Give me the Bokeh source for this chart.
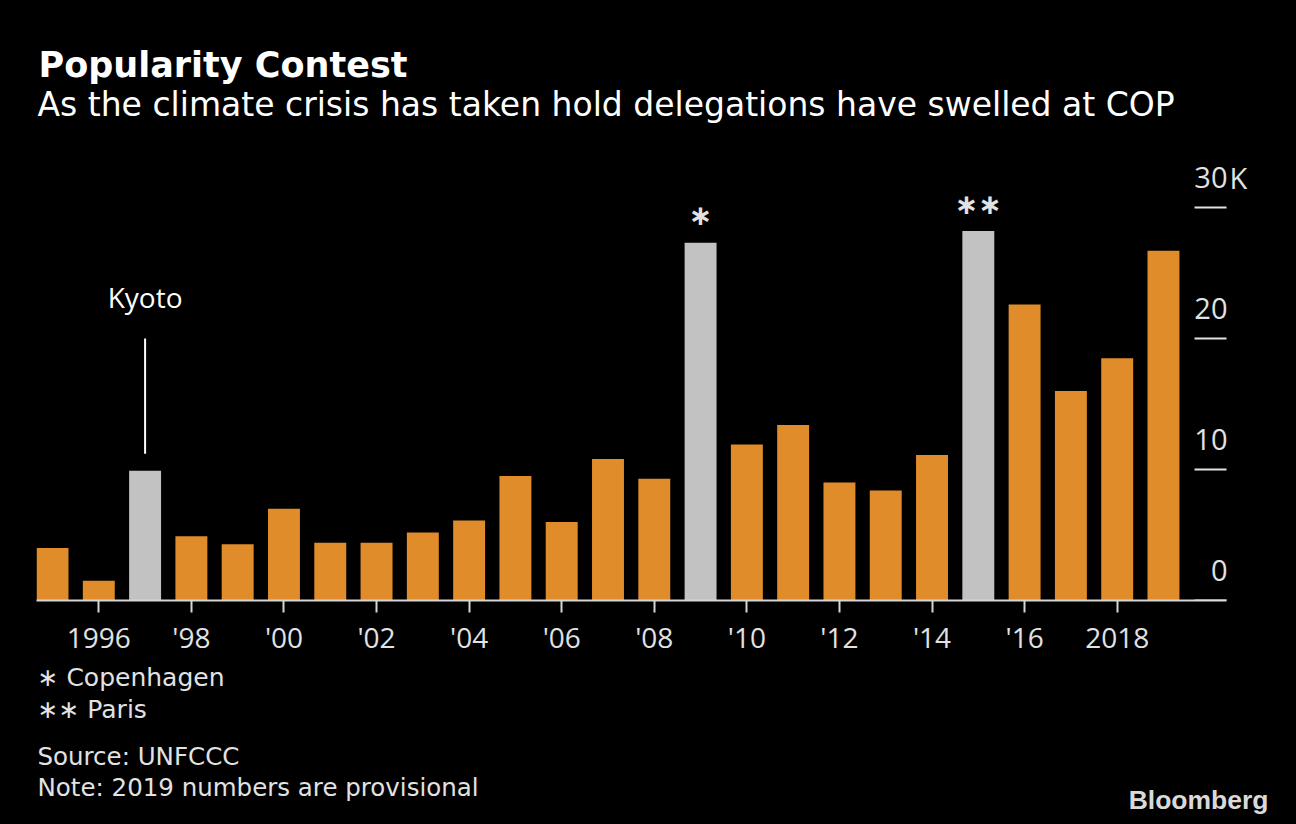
from bokeh.plotting import figure
from bokeh.layouts import column
from bokeh.models import Range1d, FixedTicker, LinearAxis, ColumnDataSource
from bokeh.core.properties import value
from bokeh.embed import file_html
from bokeh.resources import INLINE

# ---- data (thousands of delegates) ----
years = list(range(1995, 2020))
delegates_k = [4.0, 1.5, 9.9, 4.9, 4.3, 7.0, 4.4, 4.4, 5.2, 6.1, 9.5, 6.0, 10.8,
               9.3, 27.3, 11.9, 13.4, 9.0, 8.4, 11.1, 28.2, 22.6, 16.0, 18.5, 26.7]
highlight_years = [1997, 2009, 2015]
x_tick_years = [1996, 1998, 2000, 2002, 2004, 2006, 2008, 2010, 2012, 2014, 2016, 2018]
x_tick_labels = ["1996", "'98", "'00", "'02", "'04", "'06", "'08", "'10", "'12", "'14", "'16", "2018"]
y_ticks = [0, 10, 20, 30]
y_tick_labels = ["0", "10", "20", "30"]
y_unit = "K"
star_years = [2009, 2015]
star_marks = ["\u2217", "\u2217\u2217"]
kyoto_year = 1997
kyoto_label = "Kyoto"
kyoto_line = [11.2, 20.0]
kyoto_text_y = 23.2

title = "Popularity Contest"
subtitle = "As the climate crisis has taken hold delegations have swelled at COP"
legend_lines = ["\u2217 Copenhagen", "\u2217\u2217 Paris"]
source_lines = ["Source: UNFCCC", "Note: 2019 numbers are provisional"]
brand = "Bloomberg"

ORANGE = "#E08C2A"
GREY = "#C2C2C2"
LIGHT = "#E2E2E2"
BG = {"background-color": "black"}
W = 1296
FRAME_L, FRAME_R = 36, 1270   # frame edges in page pixels (shared by all panels)


def text_panel(height):
    f = figure(width=W, height=height, x_range=Range1d(FRAME_L, FRAME_R),
               y_range=Range1d(height, 0),
               output_backend="svg", toolbar_location=None,
               x_axis_location=None, y_axis_location=None,
               min_border_left=FRAME_L, min_border_right=W - FRAME_R,
               min_border_top=0, min_border_bottom=0,
               background_fill_color="black", border_fill_color=None,
               outline_line_color=None, styles=BG)
    f.grid.visible = False
    return f


# ---- header ----
head = text_panel(150)
head.text(x=[38], y=[64], text=[title], text_baseline="alphabetic",
          text_font=value("DejaVu Sans"), text_font_style="bold",
          text_font_size="35px", text_color="white")
head.text(x=[37], y=[104], text=[subtitle], text_baseline="alphabetic",
          text_font=value("DejaVu Sans"), text_font_size="33px", text_color="white")

# ---- chart ----
colors = [GREY if y in highlight_years else ORANGE for y in years]
src = ColumnDataSource(dict(year=years, value=delegates_k, color=colors))

x_start, x_end = 1994.654, 2021.312
axis_end = 2020.362
p = figure(width=W, height=512,
           x_range=Range1d(x_start, x_end), y_range=Range1d(0, 34.35),
           output_backend="svg", toolbar_location=None,
           y_axis_location=None,
           min_border_left=FRAME_L, min_border_right=W - FRAME_R,
           min_border_top=0, min_border_bottom=62,
           background_fill_color="black", border_fill_color=None,
           outline_line_color=None, styles=BG)
p.outline_line_color = None
p.grid.visible = False

p.vbar(x="year", top="value", bottom=0, width=0.69, fill_color="color",
       line_color=None, source=src)

xa = p.xaxis[0]
xa.ticker = FixedTicker(ticks=x_tick_years)
xa.bounds = (x_start, axis_end)
xa.major_label_overrides = {y: l for y, l in zip(x_tick_years, x_tick_labels)}
xa.axis_line_color = "#D6D6D6"
xa.axis_line_width = 2
xa.major_tick_line_color = "#D6D6D6"
xa.major_tick_line_width = 2
xa.major_tick_in = 0
xa.major_tick_out = 12
xa.minor_tick_line_color = None
xa.major_label_text_font = "Open Sans"
xa.major_label_text_font_size = "28px"
xa.major_label_text_color = LIGHT
xa.major_label_standoff = 5

# right axis: only its short tick lines are shown (labels drawn above them)
ya = LinearAxis(ticker=FixedTicker(ticks=y_ticks), fixed_location=axis_end,
                axis_line_color=None, major_tick_in=32, major_tick_out=0,
                major_tick_line_color=LIGHT, major_tick_line_width=2,
                minor_tick_line_color=None,
                major_label_overrides={t: "" for t in y_ticks},
                major_label_text_font_size="1px", major_label_standoff=0)
p.add_layout(ya, "right")

p.text(x=[axis_end] * len(y_ticks), y=y_ticks, text=y_tick_labels,
       text_align="right", text_baseline="alphabetic", y_offset=-30, x_offset=1,
       text_font=value("Open Sans"), text_font_size="29px", text_color=LIGHT)
p.text(x=[axis_end], y=[y_ticks[-1]], text=[y_unit],
       text_align="left", text_baseline="alphabetic", y_offset=-30, x_offset=3,
       text_font=value("Open Sans"), text_font_size="29px", text_color=LIGHT)

p.segment(x0=[kyoto_year], y0=[kyoto_line[0]], x1=[kyoto_year], y1=[kyoto_line[1]],
          line_color="white", line_width=2)
p.text(x=[kyoto_year], y=[kyoto_text_y], text=[kyoto_label], text_align="center",
       text_baseline="alphabetic", text_font=value("Open Sans"),
       text_font_size="28px", text_color="white")

star_vals = [delegates_k[years.index(y)] for y in star_years]
p.text(x=star_years, y=star_vals, text=star_marks, text_align="center",
       text_baseline="middle", y_offset=-27, text_font=value("DejaVu Sans"),
       text_font_style="bold", text_font_size="28px", text_color=LIGHT)

# ---- footer ----
foot = text_panel(162)
foot.text(x=[37, 37], y=[15, 47], text=legend_lines, text_baseline="alphabetic",
          text_font=value("DejaVu Sans"), text_font_size="25px", text_color=LIGHT)
foot.text(x=[37, 37], y=[94, 125], text=source_lines, text_baseline="alphabetic",
          text_font=value("DejaVu Sans"), text_font_size="24.5px", text_color=LIGHT)
foot.text(x=[1268], y=[137], text=[brand], text_align="right", text_baseline="alphabetic",
          text_font=value("Liberation Sans"), text_font_style="bold",
          text_font_size="26.5px", text_color="#D9D9D9")

layout = column(head, p, foot, spacing=0, styles=BG)
open("out.html", "w").write(file_html(layout, INLINE))
